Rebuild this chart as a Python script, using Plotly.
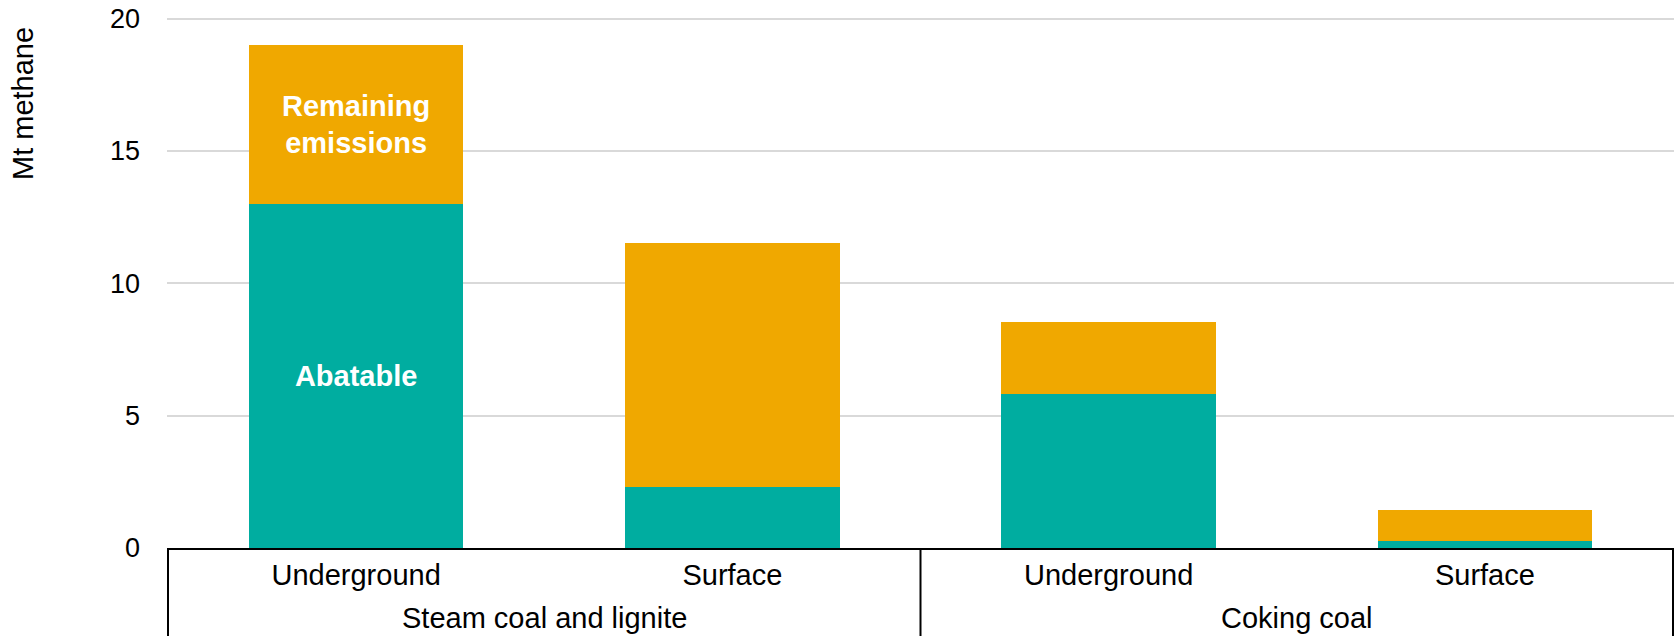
import plotly.graph_objects as go

groups = ["Steam coal and lignite", "Steam coal and lignite", "Coking coal", "Coking coal"]
mine_types = ["Underground", "Surface", "Underground", "Surface"]
abatable = [13.0, 2.32, 5.83, 0.28]
remaining = [6.0, 9.22, 2.71, 1.15]
abatable_labels = ["Abatable", "", "", ""]
remaining_labels = ["Remaining<br>emissions", "", "", ""]
y_ticks = [0, 5, 10, 15, 20]
y_range = [0, 20.1]

TEAL = "#00ADA0"
ORANGE = "#F0A800"
FONT = "Liberation Sans, Arial, sans-serif"

W, H = 1676, 636
L, T, R, B = 167, 16, 2, 88
plot_h = H - T - B
plot_w = W - L - R

keys = [f"{g} | {m}" for g, m in zip(groups, mine_types)]

fig = go.Figure()
fig.add_trace(go.Bar(
    x=keys, y=abatable, name="Abatable", marker=dict(color=TEAL, line=dict(width=0)),
    text=abatable_labels, textposition="inside", insidetextanchor="middle",
    textangle=0, textfont=dict(family=FONT, size=29, color="white", weight="bold"),
    hoverinfo="skip",
))
fig.add_trace(go.Bar(
    x=keys, y=remaining, name="Remaining emissions", marker=dict(color=ORANGE, line=dict(width=0)),
    text=remaining_labels, textposition="inside", insidetextanchor="middle",
    textangle=0, textfont=dict(family=FONT, size=29, color="white", weight="bold"),
    hoverinfo="skip",
))

fig.update_layout(
    width=W, height=H,
    margin=dict(l=L, r=R, t=T, b=B, autoexpand=False),
    barmode="stack", bargap=0.43,
    showlegend=False,
    plot_bgcolor="white", paper_bgcolor="white",
    font=dict(family=FONT, size=29, color="black"),
)
fig.update_xaxes(
    type="category", categoryorder="array", categoryarray=keys,
    tickvals=keys, ticktext=mine_types,
    showline=True, linecolor="black", linewidth=2,
    tickfont=dict(family=FONT, size=29, color="black"),
    showgrid=False, ticks="", automargin=False,
)
fig.update_yaxes(
    range=y_range, tickvals=y_ticks, ticktext=[str(v) for v in y_ticks],
    showgrid=True, gridcolor="#D9D9D9", gridwidth=2,
    zeroline=False, showline=False, ticks="",
    ticklabelstandoff=26, ticklabeloverflow="allow", automargin=False,
    tickfont=dict(family=FONT, size=27, color="black"),
)

# group labels and dividers below the axis
unique_groups = list(dict.fromkeys(groups))
bounds = [-0.5]
for g in unique_groups:
    idx = [i for i, gg in enumerate(groups) if gg == g]
    center = sum(idx) / len(idx)
    fig.add_annotation(
        text=g, showarrow=False, xref="x", yref="paper",
        x=center, y=-70 / plot_h, xanchor="center", yanchor="middle",
        font=dict(family=FONT, size=29, color="black"),
    )
    bounds.append(max(idx) + 0.5)
for b in bounds:
    fig.add_shape(
        type="line", xref="x", yref="paper", x0=b, x1=b, y0=0, y1=-B / plot_h,
        line=dict(color="black", width=2),
    )

fig.add_annotation(
    text="Mt methane", textangle=-90, showarrow=False,
    xref="paper", yref="paper", x=(23 - L) / plot_w, y=(H - B - 104) / plot_h,
    xanchor="center", yanchor="middle",
    font=dict(family=FONT, size=29, color="black"),
)

fig.write_html(
    "out.html",
    config={"displayModeBar": False},
    post_script="document.body.style.margin='0';document.body.style.overflow='hidden';",
)
